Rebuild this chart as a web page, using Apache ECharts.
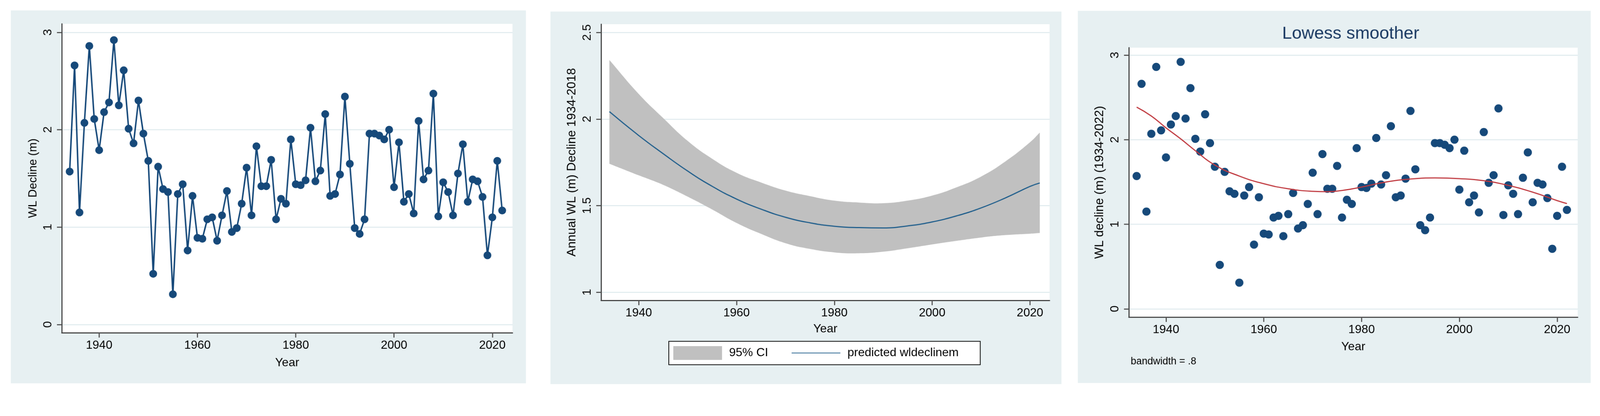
<!DOCTYPE html>
<html><head><meta charset="utf-8">
<script src="https://cdn.jsdelivr.net/npm/echarts@6/dist/echarts.min.js"></script>
<style>
html,body{margin:0;padding:0;background:#fff;overflow:hidden}
#wrap{position:absolute;left:0;top:0;width:4299px;height:1065px;transform-origin:0 0}
#c{width:4299px;height:1065px}
</style>
</head><body><div id="wrap"><div id="c"></div></div>
<script>
// ---- data ----
const years = [];
for (let y = 1934; y <= 2022; y++) years.push(y);
const wlDecline = [
  1.57, 2.66, 1.15, 2.07, 2.86, 2.11,
  1.79, 2.18, 2.28, 2.92, 2.25, 2.61, 2.01, 1.86, 2.30, 1.96,
  1.68, 0.52, 1.62, 1.39, 1.36, 0.31, 1.34, 1.44, 0.76, 1.32,
  0.89, 0.88, 1.08, 1.10, 0.86, 1.12, 1.37, 0.95, 0.99, 1.24,
  1.61, 1.12, 1.83, 1.42, 1.42, 1.69, 1.08, 1.29, 1.24, 1.90,
  1.44, 1.43, 1.48, 2.02, 1.47, 1.58, 2.16, 1.32, 1.34, 1.54,
  2.34, 1.65, 0.99, 0.93, 1.08, 1.96, 1.96, 1.94, 1.90, 2.00,
  1.41, 1.87, 1.26, 1.34, 1.14, 2.09, 1.49, 1.58, 2.37, 1.11,
  1.46, 1.36, 1.12, 1.55, 1.85, 1.26, 1.49, 1.47, 1.31, 0.71,
  1.10, 1.68, 1.17
];
const fitYears = [1934,1940,1945,1950,1955,1960,1965,1970,1975,1980,1985,1990,1995,2000,2005,2010,2015,2020,2022];
const fitValues = [2.043,1.905,1.800,1.700,1.612,1.538,1.480,1.433,1.401,1.381,1.373,1.371,1.383,1.406,1.441,1.487,1.545,1.611,1.631];
const ciUpper = [2.341,2.145,2.006,1.874,1.771,1.690,1.634,1.587,1.555,1.529,1.518,1.514,1.529,1.558,1.606,1.668,1.756,1.866,1.922];
const ciLower = [1.742,1.675,1.620,1.552,1.478,1.400,1.337,1.283,1.250,1.230,1.225,1.234,1.254,1.276,1.297,1.316,1.330,1.338,1.342];
const lowessYears = [1934,1937,1940,1943,1946,1950,1955,1960,1965,1970,1973,1976,1980,1985,1990,1995,2000,2005,2010,2015,2020,2022];
const lowessValues = [2.385,2.28,2.14,2.01,1.87,1.70,1.57,1.48,1.42,1.39,1.385,1.40,1.44,1.50,1.535,1.548,1.54,1.515,1.46,1.38,1.28,1.245];
const xTicks = [1940,1960,1980,2000,2020];
const yTicksA = [0,1,2,3];
const yTicksB = [1,1.5,2,2.5];

// ---- fit the fixed 4299x1065 layout into the viewport ----
const sc = Math.min(window.innerWidth / 4299, window.innerHeight / 1065);
document.getElementById('wrap').style.transform = 'scale(' + sc + ')';

// ---- style ----
const font = "'Liberation Sans', Arial, Helvetica, sans-serif";
const navy = '#16497A';
const gridLineColor = '#E3EDF0';
const panelBg = '#E7F0F2';

function xAxisCfg(gi, min, max, gap) {
  return {
    type: 'value', gridIndex: gi, min: min, max: max,
    name: 'Year', nameLocation: 'middle', nameGap: gap,
    nameTextStyle: {fontSize: 32, color: '#000', fontFamily: font},
    axisLine: {show: true, onZero: false, lineStyle: {color: '#444', width: 3}},
    axisTick: {show: true, customValues: xTicks, length: 13, lineStyle: {color: '#555', width: 3}},
    axisLabel: {customValues: xTicks, fontSize: 32, color: '#000', fontFamily: font, margin: 18,
      formatter: v => String(v)},
    splitLine: {show: false}
  };
}
function yAxisCfg(gi, min, max, ticks, name, nameSize, gap) {
  return {
    type: 'value', gridIndex: gi, min: min, max: max,
    name: name, nameLocation: 'middle', nameGap: gap, nameRotate: 90,
    nameTextStyle: {fontSize: nameSize, color: '#000', fontFamily: font},
    axisLine: {show: true, onZero: false, lineStyle: {color: '#444', width: 3}},
    axisTick: {show: true, customValues: ticks, length: 13, lineStyle: {color: '#555', width: 3}},
    axisLabel: {customValues: ticks, rotate: 90, fontSize: 32, color: '#000', fontFamily: font, margin: 21,
      formatter: v => String(v)},
    splitLine: {show: true, lineStyle: {color: gridLineColor, width: 3}}
  };
}

const chart = echarts.init(document.getElementById('c'), null, {renderer: 'canvas', width: 4299, height: 1065});
chart.setOption({
  animation: false,
  backgroundColor: '#fff',
  graphic: [
    {type: 'rect', z: -10, silent: true, shape: {x: 29, y: 28, width: 1384, height: 1002}, style: {fill: panelBg}},
    {type: 'rect', z: -10, silent: true, shape: {x: 1479, y: 31, width: 1373, height: 1001}, style: {fill: panelBg}},
    {type: 'rect', z: -10, silent: true, shape: {x: 2896, y: 29, width: 1378, height: 1000}, style: {fill: panelBg}}
  ],
  title: [
    {text: 'Lowess smoother', left: 3445, top: 68, padding: 0,
      textStyle: {fontSize: 47, fontWeight: 'normal', color: '#1B3A63', fontFamily: font}},
    {text: 'bandwidth = .8', left: 3038, top: 958, padding: 0,
      textStyle: {fontSize: 27, fontWeight: 'normal', color: '#000', fontFamily: font}}
  ],
  legend: {
    data: [
      {name: '95% CI', icon: 'rect'},
      {name: 'predicted wldeclinem', itemStyle: {opacity: 0}}
    ],
    left: 1797, top: 917, orient: 'horizontal',
    itemWidth: 131, itemHeight: 37, itemGap: 62,
    padding: [13, 58, 13, 12],
    backgroundColor: '#fff', borderColor: '#000', borderWidth: 2, borderRadius: 0,
    selectedMode: false,
    textStyle: {fontSize: 32, color: '#000', fontFamily: font, padding: [0, 0, 0, 14]}
  },
  grid: [
    {left: 166, top: 64, width: 1211, height: 830, show: true, backgroundColor: '#fff', borderWidth: 0},
    {left: 1615, top: 65, width: 1205, height: 742, show: true, backgroundColor: '#fff', borderWidth: 0},
    {left: 3033, top: 128, width: 1206, height: 724, show: true, backgroundColor: '#fff', borderWidth: 0}
  ],
  xAxis: [
    xAxisCfg(0, 1932.4, 2024.1, 65),
    xAxisCfg(1, 1932.3, 2024.0, 61),
    xAxisCfg(2, 1932.4, 2024.2, 64)
  ],
  yAxis: [
    yAxisCfg(0, -0.085, 3.087, yTicksA, 'WL Decline (m)', 31, 61),
    yAxisCfg(1, 0.953, 2.548, yTicksB, 'Annual WL (m) Decline 1934-2018', 33, 62),
    yAxisCfg(2, -0.097, 3.088, yTicksA, 'WL decline (m) (1934-2022)', 33, 62)
  ],
  series: [
    {
      type: 'line', xAxisIndex: 0, yAxisIndex: 0, name: 'WL decline',
      data: years.map((y, i) => [y, wlDecline[i]]),
      symbol: 'circle', symbolSize: 21, showSymbol: true,
      itemStyle: {color: navy}, lineStyle: {color: navy, width: 4}
    },
    {
      type: 'custom', xAxisIndex: 1, yAxisIndex: 1, name: '95% CI',
      itemStyle: {color: '#C0C0C0'},
      data: [[fitYears[0], ciLower[0]]],
      renderItem: function (params, api) {
        const up = fitYears.map((x, i) => api.coord([x, ciUpper[i]]));
        const lo = fitYears.map((x, i) => api.coord([x, ciLower[i]])).reverse();
        const pts = [up[0]].concat(up, [up[up.length - 1], lo[0]], lo, [lo[lo.length - 1]]);
        return {type: 'polygon', shape: {points: pts, smooth: 0.45}, style: {fill: '#C0C0C0'}};
      },
      z: 2
    },
    {
      type: 'line', xAxisIndex: 1, yAxisIndex: 1, name: 'predicted wldeclinem',
      data: fitYears.map((x, i) => [x, fitValues[i]]),
      symbol: 'none', smooth: 0.5,
      itemStyle: {color: '#1F5E8C'}, lineStyle: {color: '#1F5E8C', width: 3}, z: 3
    },
    {
      type: 'scatter', xAxisIndex: 2, yAxisIndex: 2, name: 'points',
      data: years.map((y, i) => [y, wlDecline[i]]),
      symbol: 'circle', symbolSize: 22, itemStyle: {color: navy, opacity: 1}
    },
    {
      type: 'line', xAxisIndex: 2, yAxisIndex: 2, name: 'lowess',
      data: lowessYears.map((x, i) => [x, lowessValues[i]]),
      symbol: 'none', smooth: 0.5,
      itemStyle: {color: '#C0393F'}, lineStyle: {color: '#C0393F', width: 3}, z: 3
    }
  ]
});
</script></body></html>
